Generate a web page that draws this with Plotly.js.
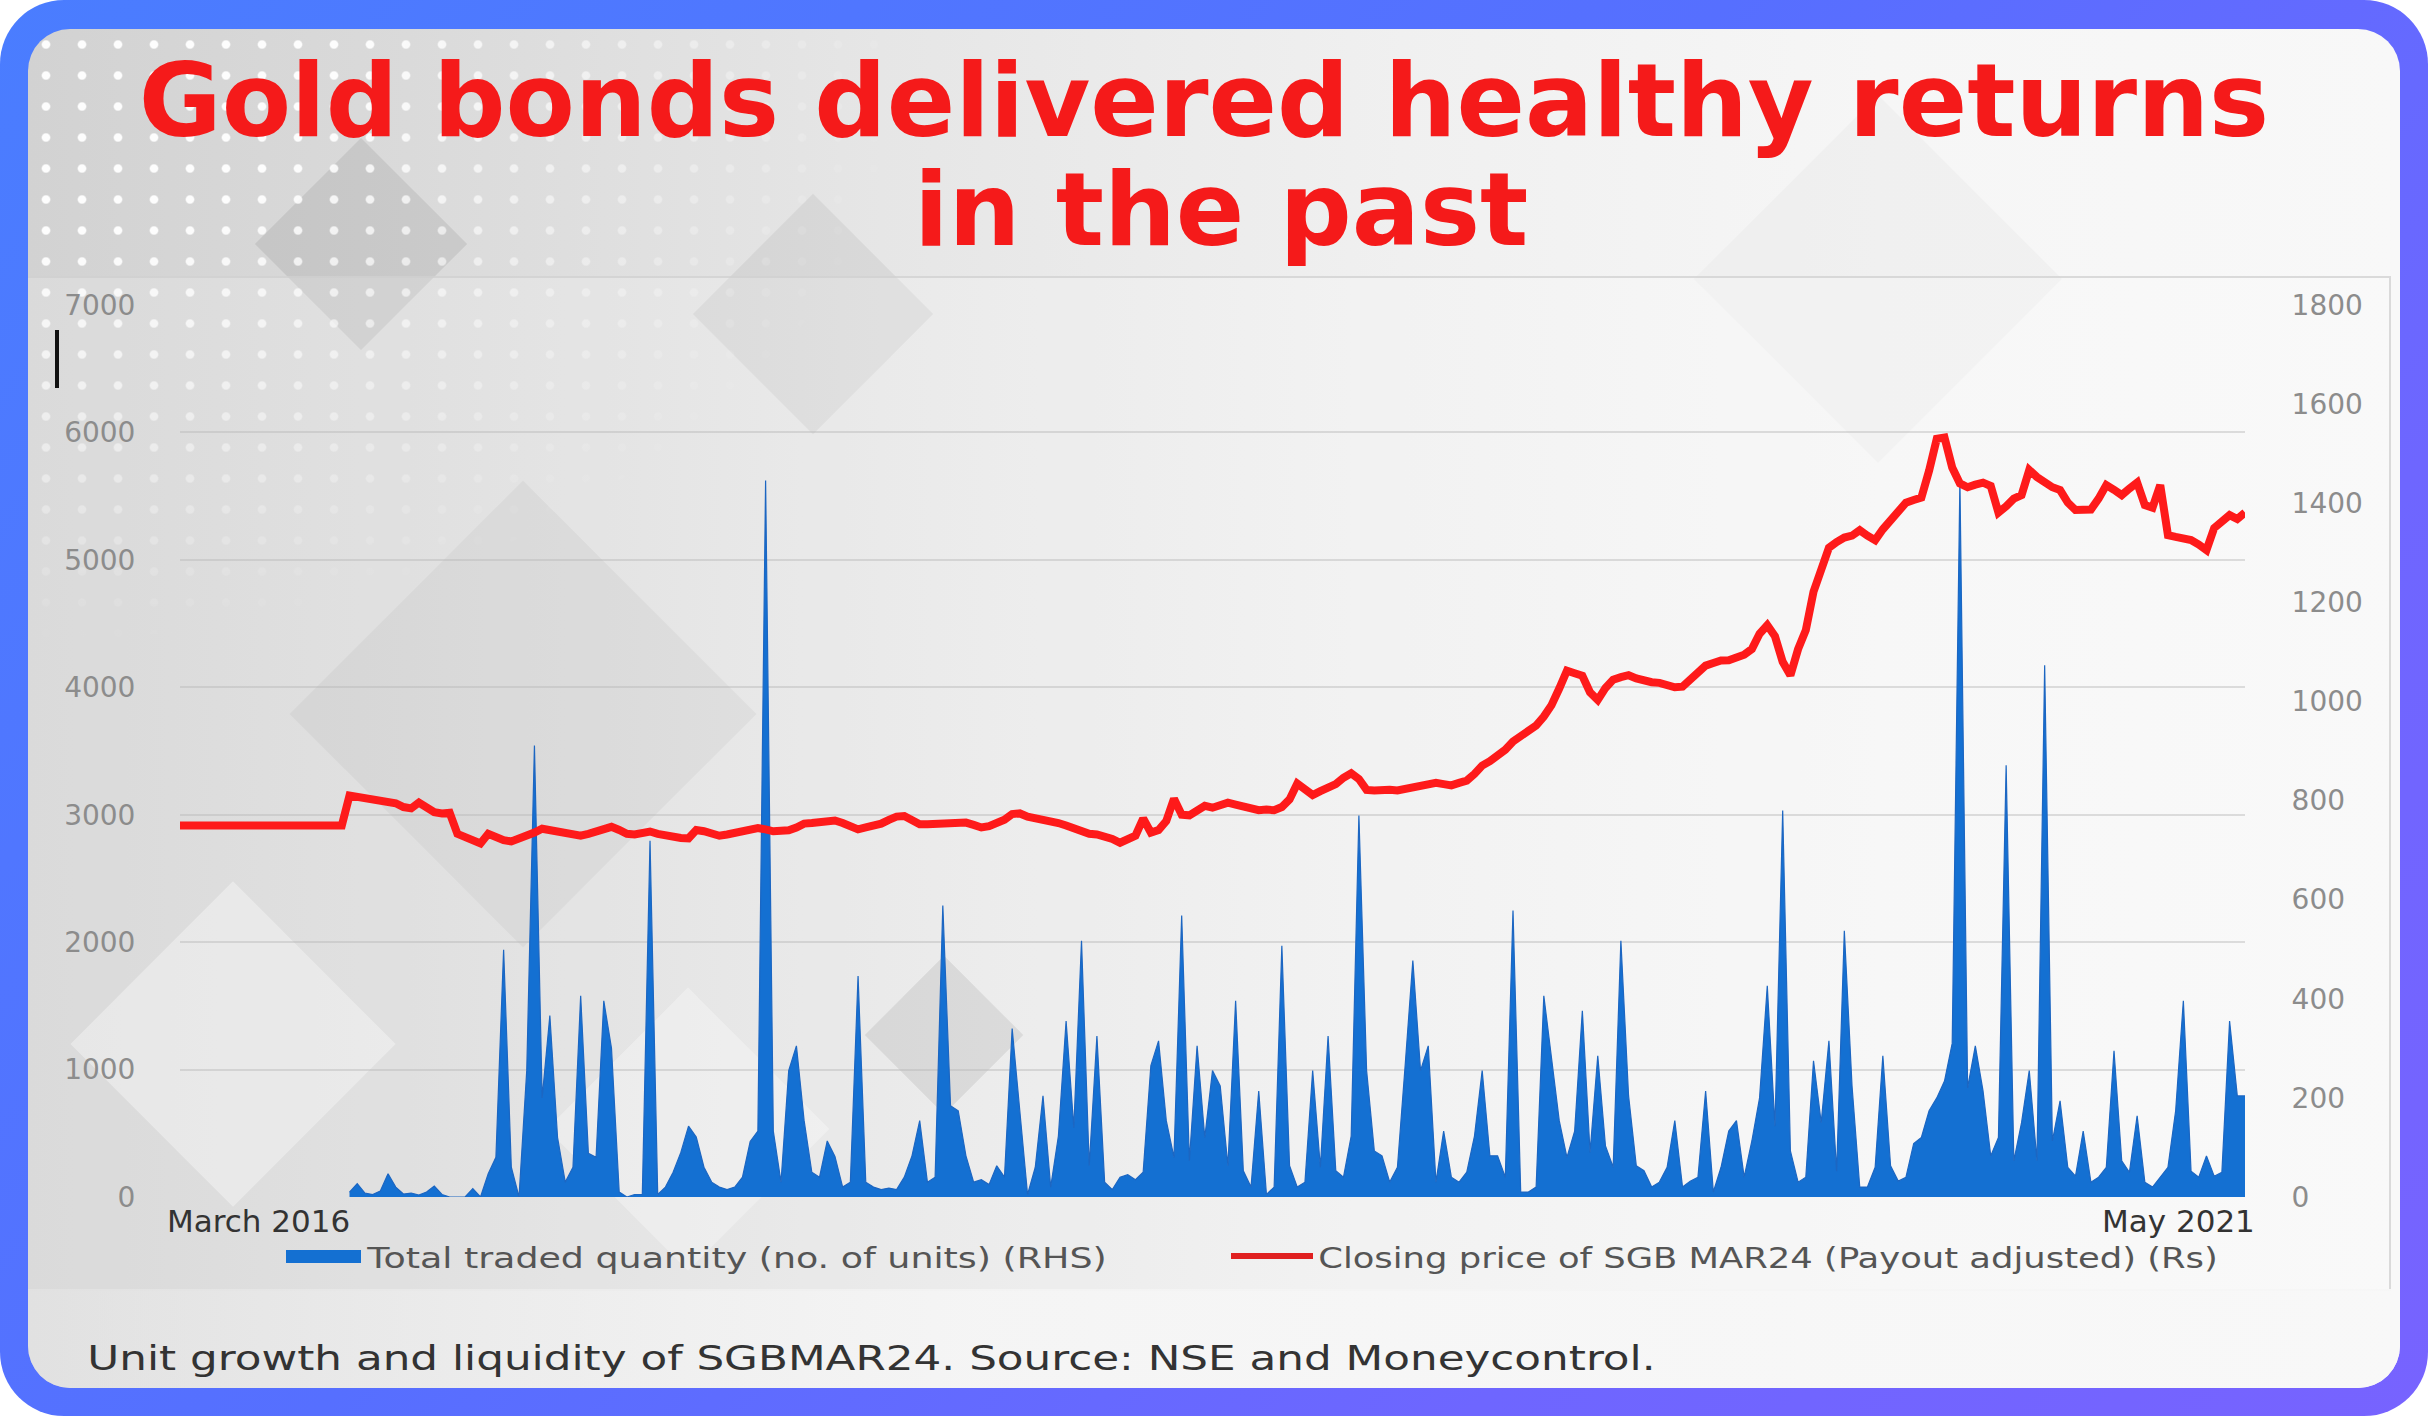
<!DOCTYPE html>
<html>
<head>
<meta charset="utf-8">
<script src="https://cdn.plot.ly/plotly-3.0.1.min.js"></script>
<style>
html,body{margin:0;padding:0;width:2428px;height:1416px;overflow:hidden;background:#ffffff;}
#frame{position:absolute;left:0;top:0;width:2428px;height:1416px;border-radius:64px;
  background:linear-gradient(135deg,#4a7dff 0%,#566fff 45%,#6e66ff 75%,#7763ff 100%);}
#card{position:absolute;left:28px;top:29px;width:2372px;height:1359px;border-radius:42px;overflow:hidden;
  background:linear-gradient(90deg,#d2d2d2 0%,#dadada 16%,#e6e6e6 36%,#f0f0f0 58%,#f6f6f6 78%,#f8f8f8 100%);}
#dots{position:absolute;left:0;top:0;width:1000px;height:760px;
  background-image:radial-gradient(circle,rgba(255,255,255,0.95) 3.5px,rgba(255,255,255,0) 5px);
  background-size:36px 31px;
  -webkit-mask-image:radial-gradient(ellipse 900px 620px at 0% 0%,#000 35%,rgba(0,0,0,0) 100%);
  mask-image:radial-gradient(ellipse 900px 620px at 0% 0%,#000 35%,rgba(0,0,0,0) 100%);}
.dia{position:absolute;transform:rotate(45deg);}
#panel{position:absolute;left:-4px;top:247px;width:2363px;height:1011px;
  border:2px solid rgba(205,205,205,0.7);background:rgba(255,255,255,0.18);}
#capstrip{position:absolute;left:0;top:1260px;width:2372px;height:100px;
  background:linear-gradient(90deg,rgba(235,235,235,0.6) 0%,rgba(246,246,246,0.9) 40%,rgba(248,248,248,0.95) 100%);}
#chart{position:absolute;left:0;top:0;width:2428px;height:1416px;}
/* the reference lettering is wider than the installed fonts: stretch it horizontally */
.annotation[data-index="3"] text.annotation-text{transform-box:fill-box;transform-origin:0% 50%;transform:scaleX(1.255);}
.annotation[data-index="4"] text.annotation-text{transform-box:fill-box;transform-origin:0% 50%;transform:scaleX(1.22);}
.annotation[data-index="5"] text.annotation-text{transform-box:fill-box;transform-origin:0% 50%;transform:scaleX(1.285);}
</style>
</head>
<body>
<div id="frame"></div>
<div id="card">
  <div class="dia" style="left:258px;top:140px;width:150px;height:150px;background:rgba(140,140,140,0.22);"></div>
  <div class="dia" style="left:700px;top:200px;width:170px;height:170px;background:rgba(150,150,150,0.16);"></div>
  <div class="dia" style="left:330px;top:520px;width:330px;height:330px;background:rgba(150,150,150,0.14);"></div>
  <div class="dia" style="left:860px;top:950px;width:112px;height:112px;background:rgba(130,130,130,0.22);"></div>
  <div class="dia" style="left:90px;top:900px;width:230px;height:230px;background:rgba(255,255,255,0.35);"></div>
  <div class="dia" style="left:560px;top:1000px;width:200px;height:200px;background:rgba(255,255,255,0.3);"></div>
  <div class="dia" style="left:1720px;top:120px;width:260px;height:260px;background:rgba(230,230,230,0.35);"></div>
  <div id="dots"></div>
  <div id="panel"></div>
  <div id="capstrip"></div>
</div>
<div id="chart"></div>
<script>
// ---- Data (weekly samples from 29 Mar 2016 to May 2021) ----
const startDate = '2016-03-29';

// Closing price of SGBMAR24 (Payout adjusted) (Rs) - left axis
const closingPrice = [
  2916,2916,2916,2916,2916,2916,2916,2916,2916,2916,
  2916,2916,2916,2916,2916,2916,2916,2916,2916,2916,
  2916,2916,3150,3140,3135,3130,3120,3105,3090,3060,
  3050,3095,3060,3020,3010,3015,2850,2820,2790,2775,
  2850,2820,2800,2790,2810,2835,2860,2890,2880,2860,
  2855,2845,2835,2850,2870,2890,2905,2880,2850,2845,
  2860,2868,2850,2835,2825,2818,2815,2880,2870,2845,
  2835,2845,2860,2875,2885,2895,2885,2870,2875,2878,
  2900,2930,2935,2940,2945,2955,2935,2905,2885,2900,
  2910,2930,2960,2985,2990,2960,2925,2925,2930,2935,
  2930,2935,2938,2920,2900,2910,2935,2960,3005,3010,
  2985,2975,2965,2955,2935,2915,2890,2860,2850,2845,
  2835,2810,2780,2800,2835,2970,2860,2880,2950,3125,
  3000,2995,3040,3070,3055,3080,3095,3080,3065,3045,
  3035,3040,3035,3060,3120,3245,3190,3155,3185,3210,
  3240,3290,3325,3280,3195,3190,3200,3195,3190,3200,
  3215,3225,3245,3250,3240,3230,3250,3268,3320,3385,
  3420,3460,3510,3575,3620,3660,3700,3770,3860,3990,
  4130,4110,4090,3960,3900,3995,4060,4080,4095,4070,
  4050,4040,4035,4020,4000,4005,4060,4130,4170,4190,
  4210,4212,4230,4255,4300,4420,4487,4400,4200,4094,
  4300,4448,4750,4920,5095,5140,5175,5190,5233,5190,
  5155,5240,5312,5390,5449,5470,5489,5700,5950,5960,
  5724,5600,5570,5590,5606,5580,5371,5420,5480,5508,
  5705,5650,5606,5570,5548,5450,5391,5400,5395,5480,
  5587,5550,5508,5560,5606,5430,5410,5587,5194,5180,
  5170,5155,5120,5076,5250,5300,5351,5320,5371
];

// Total traded quantity (no. of units) - right axis (null before listing)
const tradedQty = [
  null,null,null,null,null,null,null,null,null,null,
  null,null,null,null,null,null,null,null,null,null,
  null,null,10,27,8,5,12,47,20,6,
  8,4,10,22,5,0,0,0,17,0,
  47,80,499,60,0,255,911,200,366,120,
  30,60,406,88,80,396,300,10,0,5,
  5,719,5,20,50,90,143,121,60,30,
  20,15,20,40,112,133,1446,133,30,255,
  305,154,50,40,113,82,20,30,446,30,
  20,15,18,15,40,83,154,30,40,588,
  184,174,83,30,35,25,63,40,340,174,
  5,60,204,20,123,355,140,517,63,325,
  30,15,40,45,35,50,265,315,154,80,
  568,73,305,120,255,224,63,396,53,20,
  214,5,20,507,63,20,30,255,60,325,
  53,40,123,770,255,93,83,30,60,265,
  477,255,305,30,133,40,30,50,123,255,
  83,83,40,578,10,10,20,406,275,154,
  80,133,376,90,285,103,60,517,204,63,
  53,20,30,60,154,20,32,40,214,10,
  60,133,154,40,113,200,426,143,780,93,
  30,40,275,150,315,52,537,224,20,20,
  60,285,63,32,40,108,120,174,200,234,
  310,1446,220,305,214,83,120,871,73,150,
  255,73,1073,113,194,60,42,133,30,40,
  60,295,73,50,164,30,20,40,60,174,
  396,52,40,83,42,50,355,204,204
];

const xEndLabels = ['March 2016', 'May 2021'];
const seriesNames = ['Total traded quantity (no. of units) (RHS)', 'Closing price of SGB MAR24 (Payout adjusted) (Rs)'];
const titleLines = ['Gold bonds delivered healthy returns', 'in the past'];
const caption = 'Unit growth and liquidity of SGBMAR24. Source: NSE and Moneycontrol.';
const priceTicks = [0,1000,2000,3000,4000,5000,6000,7000];
const qtyTicks = [0,200,400,600,800,1000,1200,1400,1600,1800];

// weekly dates
const t0 = Date.UTC(2016,2,29);
const weekDates = closingPrice.map((_, i) => new Date(t0 + i*7*86400000).toISOString().slice(0,10));

const W = 2428, H = 1416;
const px = x => x / W;
const py = y => 1 - y / H;

const tickFont = {family:'DejaVu Sans', size:28, color:'#8c8c8c'};
const blue = '#1470d2';
const red = '#fe1a1a';
const titleFont = {family:'DejaVu Sans', size:101, color:'#f51a1a', weight:'bold'};

const traces = [
  {
    x: weekDates, y: tradedQty, yaxis:'y', xaxis:'x',
    type:'scatter', mode:'lines', fill:'tozeroy', connectgaps:false,
    line:{color:'#1c66c2', width:1.2}, fillcolor:blue,
    name: seriesNames[0], hoverinfo:'x+y'
  },
  {
    x: weekDates, y: closingPrice, yaxis:'y2', xaxis:'x',
    type:'scatter', mode:'lines',
    line:{color:red, width:8, shape:'linear'},
    name: seriesNames[1], hoverinfo:'x+y'
  }
];

const legFont = {family:'DejaVu Sans', size:29, color:'#555555'};
const xLabFont = {family:'DejaVu Sans', size:31, color:'#333333'};

const layout = {
  width:W, height:H,
  margin:{l:0, r:0, t:0, b:0},
  paper_bgcolor:'rgba(0,0,0,0)', plot_bgcolor:'rgba(0,0,0,0)',
  showlegend:false,
  title:{
    text: titleLines[0],
    font: titleFont,
    x: 1204/W, xanchor:'center', y: py(65), yanchor:'top'
  },
  xaxis:{
    type:'date', domain:[px(180), px(2245)],
    range:[weekDates[0], weekDates[weekDates.length-1]],
    showgrid:false, zeroline:false, showline:false, showticklabels:false, ticks:''
  },
  yaxis:{
    domain:[py(1197), py(305)], range:[0,1800], tickvals:qtyTicks, ticktext:qtyTicks.map(String),
    side:'right', showgrid:false, zeroline:false, showline:false,
    ticks:'outside', ticklen:40, tickcolor:'rgba(0,0,0,0)', tickfont:tickFont
  },
  yaxis2:{
    overlaying:'y', side:'left', range:[0,7000], tickvals:priceTicks, ticktext:priceTicks.map(String),
    showgrid:true, gridcolor:'rgba(185,185,185,0.45)', gridwidth:2,
    zeroline:false, showline:false,
    ticks:'outside', ticklen:38, tickcolor:'rgba(0,0,0,0)', tickfont:tickFont
  },
  annotations:[
    {text:titleLines[1], xref:'paper', yref:'paper', x:1221/W, xanchor:'center', y:py(149), yanchor:'top',
     showarrow:false, font:titleFont},
    {text:xEndLabels[0], xref:'x', yref:'paper', x:weekDates[0], xanchor:'left', xshift:-15, y:py(1221), yanchor:'middle',
     showarrow:false, font:xLabFont},
    {text:xEndLabels[1], xref:'x', yref:'paper', x:weekDates[weekDates.length-1], xanchor:'right', xshift:12, y:py(1221), yanchor:'middle',
     showarrow:false, font:xLabFont},
    {text:seriesNames[0], xref:'paper', yref:'paper', x:px(364), xanchor:'left', y:py(1258), yanchor:'middle',
     showarrow:false, font:legFont},
    {text:seriesNames[1], xref:'paper', yref:'paper', x:px(1316), xanchor:'left', y:py(1258), yanchor:'middle',
     showarrow:false, font:legFont},
    {text:caption, xref:'paper', yref:'paper', x:px(85), xanchor:'left', y:py(1358), yanchor:'middle',
     showarrow:false, font:{family:'DejaVu Sans', size:34, color:'#333333'}}
  ],
  shapes:[
    {type:'rect', xref:'paper', yref:'paper', x0:px(286), x1:px(361), y0:py(1263), y1:py(1250),
     fillcolor:blue, line:{width:0}},
    {type:'line', xref:'paper', yref:'paper', x0:px(1231), x1:px(1313), y0:py(1256), y1:py(1256),
     line:{color:'#e02020', width:6}},
    {type:'rect', xref:'paper', yref:'paper', x0:px(55), x1:px(59), y0:py(388), y1:py(330),
     fillcolor:'#111111', line:{width:0}}
  ]
};

Plotly.newPlot('chart', traces, layout, {displayModeBar:false, staticPlot:true});
</script>
</body>
</html>
